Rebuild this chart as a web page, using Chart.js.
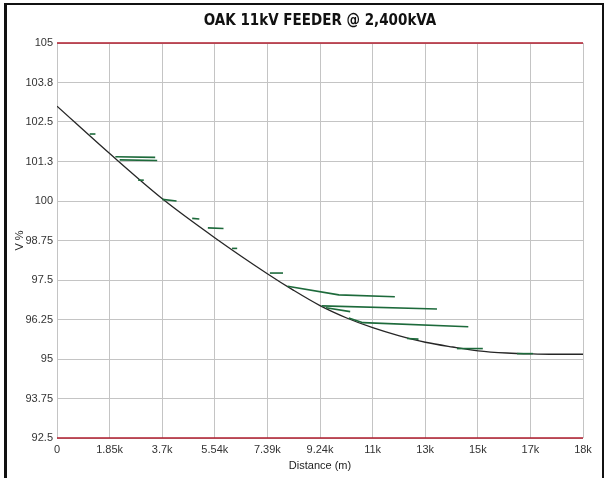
<!DOCTYPE html>
<html>
<head>
<meta charset="utf-8">
<script src="https://cdn.jsdelivr.net/npm/chart.js@4.4.1/dist/chart.umd.min.js"></script>
<style>
  html, body { margin: 0; padding: 0; background: #fff; }
  #wrap { position: relative; width: 609px; height: 478px; overflow: hidden; }
  #frame { position: absolute; left: 4px; top: 3px; width: 595px; height: 520px;
           border: 2px solid #111; border-left-width: 3px; border-bottom: none; pointer-events: none; }
</style>
</head>
<body>
<div id="wrap">
  <canvas id="chartLine" width="609" height="478"></canvas>
  <div id="frame"></div>
</div>
<script>
// main feeder voltage profile
const mainDist = [0, 1850, 3700, 5540, 7390, 8300, 9240, 10200, 11090, 12000, 12940, 13900, 14800, 15800, 16700, 17300, 18480];
const mainVolt = [103.0, 101.5, 100.07, 98.84, 97.7, 97.18, 96.69, 96.29, 95.99, 95.74, 95.53, 95.38, 95.26, 95.19, 95.16, 95.15, 95.15];

// laterals branching off the main line
const lateralDist = [
  [2050, 3450], [2200, 3520], [1150, 1350], [2850, 3050], [3700, 4200],
  [4750, 5000], [5300, 5850], [6150, 6330], [7480, 7940],
  [8100, 9900, 11870], [9300, 13350], [9450, 10300],
  [10250, 10750, 14450], [12300, 12700], [14050, 14960], [16160, 16720]
];
const lateralVolt = [
  [101.4, 101.38], [101.3, 101.28], [102.12, 102.12], [100.66, 100.66], [100.05, 100.0],
  [99.45, 99.43], [99.15, 99.13], [98.5, 98.5], [97.72, 97.72],
  [97.3, 97.03, 96.97], [96.68, 96.58], [96.62, 96.5],
  [96.3, 96.15, 96.02], [95.65, 95.63], [95.33, 95.33], [95.17, 95.17]
];

// voltage limits
const limitDist = [0, 18480];
const limitHigh = [105, 105];
const limitLow = [92.5, 92.5];

const xTickValues = [0, 1848, 3696, 5544, 7392, 9240, 11088, 12936, 14784, 16632, 18480];
const xTickLabels = ["0", "1.85k", "3.7k", "5.54k", "7.39k", "9.24k", "11k", "13k", "15k", "17k", "18k"];
const yTickValues = [92.5, 93.75, 95, 96.25, 97.5, 98.75, 100, 101.25, 102.5, 103.75, 105];
const yTickLabels = ["92.5", "93.75", "95", "96.25", "97.5", "98.75", "100", "101.3", "102.5", "103.8", "105"];

const pts = (xs, ys) => xs.map((x, i) => ({ x: x, y: ys[i] }));

const datasets = [];
lateralDist.forEach((d, i) => {
  datasets.push({
    data: pts(d, lateralVolt[i]),
    borderColor: "#1d6a3b",
    borderWidth: 1.6,
    pointRadius: 0,
    tension: 0,
  });
});
datasets.push({
  data: pts(mainDist, mainVolt),
  borderColor: "#262626",
  borderWidth: 1.3,
  pointRadius: 0,
  cubicInterpolationMode: "monotone",
});
datasets.push({
  data: pts(limitDist, limitHigh),
  borderColor: "#b01c2e",
  borderWidth: 1.5,
  pointRadius: 0,
  clip: false,
});
datasets.push({
  data: pts(limitDist, limitLow),
  borderColor: "#b01c2e",
  borderWidth: 1.5,
  pointRadius: 0,
  clip: false,
});

const tickFont = { family: "'Liberation Sans', Arial, sans-serif", size: 11 };

const config = {
  type: "line",
  data: { datasets: datasets },
  options: {
    responsive: false,
    animation: false,
    layout: { padding: { top: 0, right: 26, bottom: 0, left: 0 } },
    plugins: {
      legend: { display: false },
      tooltip: { enabled: false },
      title: {
        display: true,
        fullSize: false,
        text: "OAK 11kV FEEDER @ 2,400kVA",
        color: "#111",
        font: { family: "'Liberation Sans Narrow', 'DejaVu Sans Condensed', Arial, sans-serif", size: 15, weight: "bold" },
        padding: { top: 12, bottom: 13 },
      },
    },
    scales: {
      x: {
        type: "linear",
        min: 0,
        max: 18480,
        afterBuildTicks: (s) => { s.ticks = xTickValues.map((v) => ({ value: v })); },
        afterFit: (s) => { s.height = 40; },
        grid: { color: "#c4c4c4", drawTicks: false },
        border: { display: false },
        ticks: {
          padding: 5,
          color: "#333",
          font: tickFont,
          maxRotation: 0,
          autoSkip: false,
          callback: (v, i) => xTickLabels[i],
        },
        title: {
          display: true,
          text: "Distance (m)",
          color: "#222",
          font: tickFont,
          padding: { top: 0, bottom: 5 },
        },
      },
      y: {
        min: 92.5,
        max: 105,
        afterBuildTicks: (s) => { s.ticks = yTickValues.map((v) => ({ value: v })); },
        afterFit: (s) => { s.width = 57; },
        grid: { color: "#c4c4c4", drawTicks: false },
        border: { display: false },
        ticks: {
          padding: 4,
          color: "#333",
          font: tickFont,
          autoSkip: false,
          callback: (v, i) => yTickLabels[i],
        },
        title: {
          display: true,
          text: "V %",
          color: "#222",
          font: tickFont,
          padding: { top: 13, bottom: 0 },
        },
      },
    },
  },
};

const ctx = document.getElementById("chartLine").getContext("2d");
new Chart(ctx, config);
</script>
</body>
</html>
